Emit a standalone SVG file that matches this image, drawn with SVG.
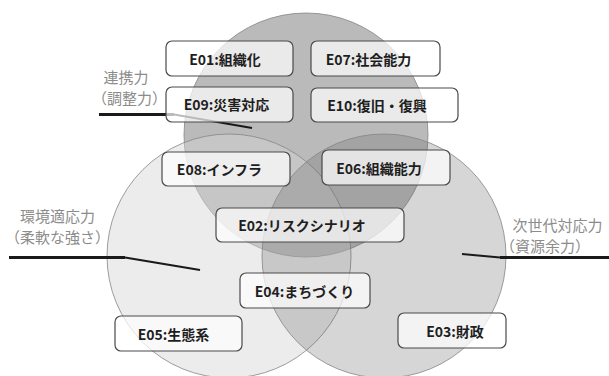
<svg xmlns="http://www.w3.org/2000/svg" width="609" height="376" viewBox="0 0 609 376">
<style>
.circ{stroke:#858585;stroke-width:0.8}
.box rect{fill:#ffffff;fill-opacity:0.7;stroke:#4a4a4a;stroke-width:1.2}
.box text{font-family:"Noto Sans CJK JP","Noto Sans",sans-serif;font-weight:bold;font-size:14px;fill:#1e1e1e;text-anchor:middle;dominant-baseline:central}
.lbl text{font-family:"Noto Sans CJK JP","Noto Sans",sans-serif;font-size:15px;fill:#8c8c8c;text-anchor:middle;dominant-baseline:central}
.lead{fill:none;stroke:#1a1a1a;stroke-linejoin:round}
</style>
<rect width="609" height="376" fill="#ffffff"/>
<g id="circles">
<circle id="c-top" class="circ" cx="306" cy="135" r="122" fill="#bababa"/>
<circle id="c-left" class="circ" cx="229" cy="256" r="122" fill="#d6d6d6" fill-opacity="0.46"/>
<circle id="c-right" class="circ" cx="384" cy="256" r="122" fill="#606060" fill-opacity="0.26"/>
</g>
<g id="connectors">
<path class="lead" d="M99 114.5 H174" stroke-width="3"/>
<path class="lead" d="M174 114.5 L252 128" stroke-width="2"/>
<path class="lead" d="M9 257.5 H125" stroke-width="3"/>
<path class="lead" d="M125 257.5 L200 270" stroke-width="2"/>
<path class="lead" d="M609 257.5 H500" stroke-width="3"/>
<path class="lead" d="M500 257.5 L462 254" stroke-width="2"/>
</g>
<g id="E01" class="box"><rect x="166" y="41" width="127" height="35" rx="6"/><text x="225" y="58.5">E01:組織化</text></g>
<g id="E09" class="box"><rect x="166" y="87" width="127" height="35" rx="6"/><text x="226.5" y="104">E09:災害対応</text></g>
<g id="E08" class="box"><rect x="162" y="152" width="128" height="34" rx="6"/><text x="219.5" y="169">E08:インフラ</text></g>
<g id="E07" class="box"><rect x="311" y="41" width="129" height="35" rx="6"/><text x="368.5" y="58.5">E07:社会能力</text></g>
<g id="E10" class="box"><rect x="311" y="88" width="147" height="34" rx="6"/><text x="377" y="105">E10:復旧・復興</text></g>
<g id="E06" class="box"><rect x="322" y="150" width="128" height="35" rx="6"/><text x="379" y="167.5">E06:組織能力</text></g>
<g id="E02" class="box"><rect x="216" y="208" width="188" height="34" rx="6"/><text x="302" y="225">E02:リスクシナリオ</text></g>
<g id="E04" class="box"><rect x="240" y="273" width="130" height="35" rx="6"/><text x="304.5" y="290.5">E04:まちづくり</text></g>
<g id="E05" class="box"><rect x="115" y="316" width="127" height="35" rx="6"/><text x="173.5" y="333.5">E05:生態系</text></g>
<g id="E03" class="box"><rect x="398" y="313" width="108" height="35" rx="6"/><text x="455" y="330.5">E03:財政</text></g>
<g id="L-top" class="lbl"><text x="126" y="76">連携力</text><text x="129.5" y="97.5">（調整力）</text></g>
<g id="L-left" class="lbl"><text x="57.5" y="215">環境適応力</text><text x="57.5" y="236.5">（柔軟な強さ）</text></g>
<g id="L-right" class="lbl"><text x="557.5" y="224">次世代対応力</text><text x="545" y="245">（資源余力）</text></g>
</svg>
